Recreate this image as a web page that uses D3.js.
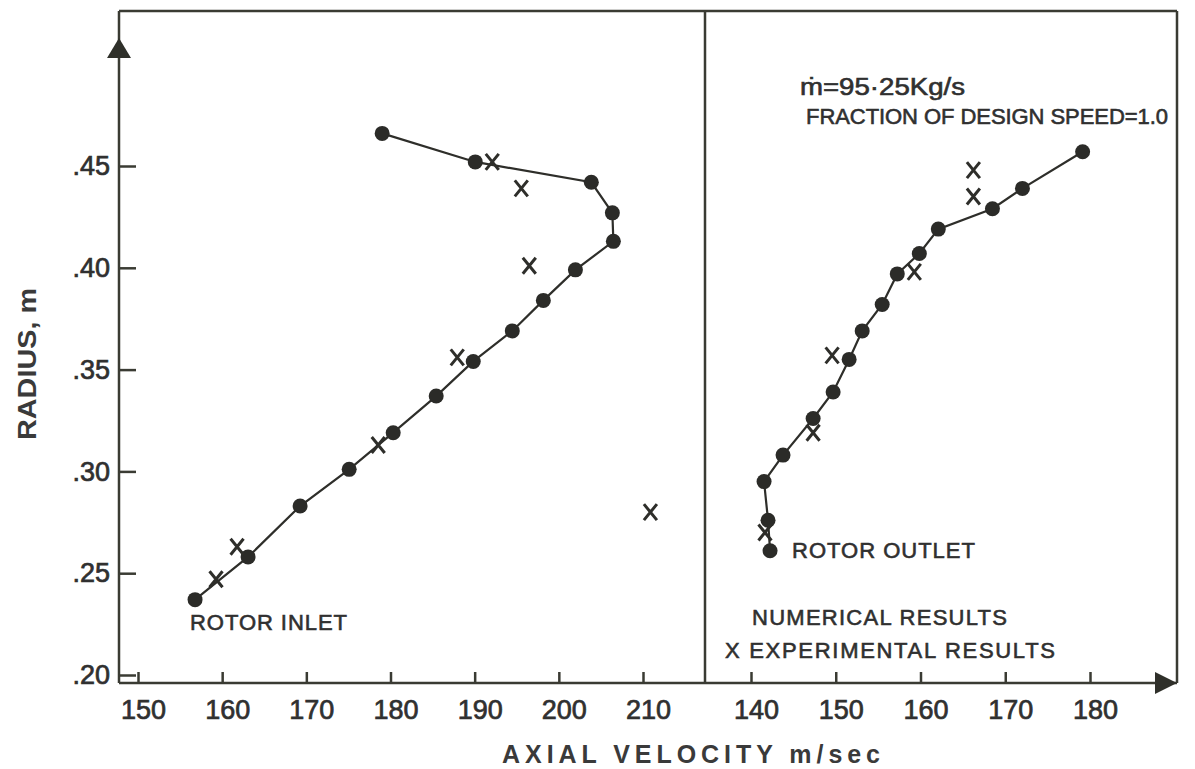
<!DOCTYPE html>
<html>
<head>
	<title>Axial velocity vs radius</title>
	<script src="https://d3js.org/d3.v7.min.js"></script>
	<style>
		body{margin:0;background:#fff;}
		text{font-family:'Liberation Sans', Arial, sans-serif; fill:#303030;}
		.tick text{font-size:27px; stroke:#303030; stroke-width:0.7;}
		.note{font-size:22px; stroke:#303030; stroke-width:0.6;}
		.title{font-size:25px; font-weight:bold; fill:#3a3a3a;}
	</style>
</head>
<body>
	<div class="chart"></div>
	<script>
		// rotor inlet (left panel)
		const inletVel = [156.78,163.08,169.26,175.09,180.32,185.43,189.83,194.47,198.16,201.97,206.48,206.36,203.86,190.07,179.01];
		const inletRad = [.237,.258,.283,.301,.319,.337,.354,.369,.384,.399,.413,.427,.442,.452,.466];
		const inletExpVel = [159.27,161.77,178.54,187.93,196.49,195.54,192.09,210.88];
		const inletExpRad = [.247,.263,.313,.356,.401,.439,.452,.280];
		// rotor outlet (right panel)
		const outletVel = [179.13,172.03,168.49,162.10,159.86,157.26,155.48,153.12,151.58,149.69,147.33,143.78,141.54,142.01,142.25];
		const outletRad = [.457,.439,.429,.419,.407,.397,.382,.369,.355,.339,.326,.308,.295,.276,.261];
		const outletExpVel = [166.24,166.24,159.27,149.57,147.33,141.65];
		const outletExpRad = [.448,.435,.398,.357,.319,.270];

		const radiusTicks = [.20,.25,.30,.35,.40,.45];
		const inletTicks = [150,160,170,180,190,200,210];
		const outletTicks = [140,150,160,170,180];

		const ink = '#3a3b33';
		const svg = d3.select('.chart').append('svg').attr('width',1195).attr('height',769);

		const fLeft = 119, fRight = 1177, fTop = 11, fBottom = 683, divider = 705;

		let y = d3.scaleLinear().domain([.20,.45]).range([675,166]);
		let xIn = d3.scaleLinear().domain([150,210]).range([138,643]);
		let xOut = d3.scaleLinear().domain([140,180]).range([751,1090]);

		// frame
		svg.append('line').attr('x1',fLeft).attr('x2',fRight).attr('y1',fTop).attr('y2',fTop).attr('stroke',ink).attr('stroke-width',2.5)
		svg.append('line').attr('x1',fLeft).attr('x2',fLeft).attr('y1',fTop).attr('y2',fBottom).attr('stroke',ink).attr('stroke-width',2.5)
		svg.append('line').attr('x1',fLeft).attr('x2',fRight).attr('y1',fBottom).attr('y2',fBottom).attr('stroke',ink).attr('stroke-width',2.5)
		svg.append('line').attr('x1',fRight).attr('x2',fRight).attr('y1',fTop).attr('y2',fBottom).attr('stroke',ink).attr('stroke-width',2.5)
		svg.append('line').attr('x1',divider).attr('x2',divider).attr('y1',fTop).attr('y2',fBottom).attr('stroke',ink).attr('stroke-width',2.5)
		// arrows
		svg.append('path').attr('d',`M${fLeft},38 L${fLeft-12},58 L${fLeft+12},58 Z`).attr('fill','#2f302a')
		svg.append('path').attr('d',`M${fRight},${fBottom} L${fRight-22},${fBottom-11} L${fRight-22},${fBottom+11} Z`).attr('fill','#2f302a')

		// axes
		const yAxis = d3.axisLeft(y).tickValues(radiusTicks).tickSizeInner(-17).tickSizeOuter(0).tickPadding(9)
					.tickFormat(d => d3.format('.2f')(d).slice(1));
		svg.append('g').attr('transform',`translate(${fLeft},0)`).call(yAxis);

		const xAxisIn = d3.axisBottom(xIn).tickValues(inletTicks).tickSizeInner(-11).tickSizeOuter(0).tickPadding(17);
		svg.append('g').attr('class','xin').attr('transform',`translate(0,${fBottom})`).call(xAxisIn);
		const xAxisOut = d3.axisBottom(xOut).tickValues(outletTicks).tickSizeInner(-11).tickSizeOuter(0).tickPadding(17);
		svg.append('g').attr('class','xout').attr('transform',`translate(0,${fBottom})`).call(xAxisOut);

		svg.selectAll('.domain').remove();
		svg.selectAll('.tick line').attr('stroke',ink).attr('stroke-width',2.5);
		svg.selectAll('.xin .tick text, .xout .tick text').attr('dx',5);

		// axis titles
		svg.append('text').attr('class','title').attr('transform','translate(36,364) rotate(-90)')
			.attr('text-anchor','middle').attr('textLength',152).attr('lengthAdjust','spacingAndGlyphs').style('font-size','26px').text('RADIUS, m')
		svg.append('text').attr('class','title').attr('x',502).attr('y',763)
			.attr('textLength',378).attr('lengthAdjust','spacing').text('AXIAL VELOCITY  m/sec')

		// series
		const drawPanel = (x, vel, rad, expVel, expRad) => {
			const pts = vel.map((v,i) => [x(v), y(rad[i])]);
			svg.append('path').attr('d',d3.line()(pts)).attr('fill','none').attr('stroke','#2e2e2a').attr('stroke-width',2.2);
			svg.append('g').selectAll('circle').data(pts).join('circle')
				.attr('cx',d => d[0]).attr('cy',d => d[1]).attr('r',7.5).attr('fill','#2b2b28');
			const ex = expVel.map((v,i) => [x(v), y(expRad[i])]);
			svg.append('g').selectAll('path').data(ex).join('path')
				.attr('d',d => `M${d[0]-6.5},${d[1]-8} L${d[0]+6.5},${d[1]+8} M${d[0]+6.5},${d[1]-8} L${d[0]-6.5},${d[1]+8}`)
				.attr('stroke','#2e2e2a').attr('stroke-width',3).attr('fill','none');
		}
		drawPanel(xIn, inletVel, inletRad, inletExpVel, inletExpRad);
		drawPanel(xOut, outletVel, outletRad, outletExpVel, outletExpRad);

		// notes
		svg.append('text').attr('class','note').attr('x',190).attr('y',630).attr('textLength',157).text('ROTOR INLET')
		svg.append('text').attr('class','note').attr('x',792).attr('y',558).attr('textLength',183).text('ROTOR OUTLET')
		svg.append('text').attr('class','note').attr('x',752).attr('y',625).attr('textLength',255).text('NUMERICAL RESULTS')
		svg.append('text').attr('class','note').attr('x',725).attr('y',658).attr('textLength',330).text('X EXPERIMENTAL RESULTS')
		svg.append('text').attr('class','note').attr('x',800).attr('y',95).attr('textLength',165).attr('lengthAdjust','spacingAndGlyphs')
			.style('font-size','23px').text('\u1E41=95\u00B725Kg/s')
		svg.append('text').attr('class','note').attr('x',806).attr('y',124).attr('textLength',362)
			.style('font-size','22px').text('FRACTION OF DESIGN SPEED=1.0')
	</script>
</body>
</html>
